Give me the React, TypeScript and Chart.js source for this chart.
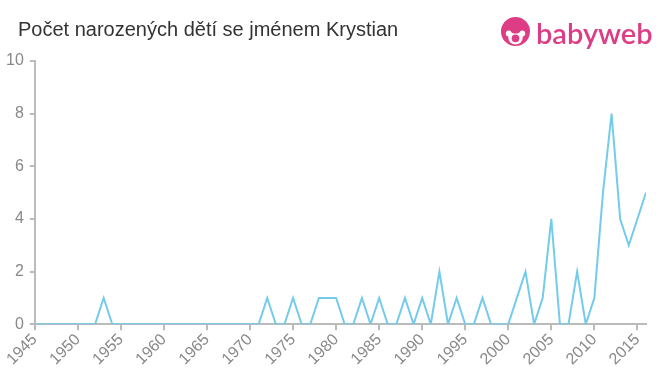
import React, { useEffect, useRef } from "react";
import { Chart, registerables } from "chart.js";

Chart.register(...registerables);

const years: number[] = [];
for (let y = 1945; y <= 2016; y++) years.push(y);

const counts: number[] = [
  // 1945-1954
  0, 0, 0, 0, 0, 0, 0, 0, 1, 0,
  // 1955-1964
  0, 0, 0, 0, 0, 0, 0, 0, 0, 0,
  // 1965-1974
  0, 0, 0, 0, 0, 0, 0, 1, 0, 0,
  // 1975-1984
  1, 0, 0, 1, 1, 1, 0, 0, 1, 0,
  // 1985-1994
  1, 0, 0, 1, 0, 1, 0, 2, 0, 1,
  // 1995-2004
  0, 0, 1, 0, 0, 0, 1, 2, 0, 1,
  // 2005-2014
  4, 0, 0, 2, 0, 1, 5, 8, 4, 3,
  // 2015-2016
  4, 5,
];

const xTicks = [1945, 1950, 1955, 1960, 1965, 1970, 1975, 1980, 1985, 1990, 1995, 2000, 2005, 2010, 2015];
const yTicks = [0, 2, 4, 6, 8, 10];
const xMin = 1945;
const xMax = 2016;

const title = "Počet narozených dětí se jménem Krystian";

export default function App() {
  const ref = useRef<HTMLCanvasElement | null>(null);

  useEffect(() => {
    document.body.style.margin = "0";
    const ctx = ref.current!;
    const chart = new Chart(ctx, {
      type: "line",
      data: {
        datasets: [
          {
            data: years.map((y, i) => ({ x: y, y: counts[i] })),
            borderColor: "#75cbea",
            borderWidth: 2,
            pointRadius: 0,
            tension: 0,
            fill: false,
          },
        ],
      },
      options: {
        animation: false,
        responsive: false,
        maintainAspectRatio: false,
        layout: { padding: { top: 61, right: 14, left: 0, bottom: 6 } },
        plugins: { legend: { display: false }, tooltip: { enabled: false } },
        scales: {
          x: {
            type: "linear",
            min: xMin,
            max: xMax,
            afterBuildTicks: (scale: any) => {
              scale.ticks = xTicks.map((v) => ({ value: v }));
            },
            ticks: {
              autoSkip: false,
              minRotation: 45,
              maxRotation: 45,
              color: "#888",
              font: { size: 16, family: "'Liberation Sans', Arial, sans-serif" },
              padding: 0,
              callback: (v: any) => String(v),
            },
            grid: { display: true, drawOnChartArea: false, drawTicks: true, tickLength: 6, color: "#bbb", lineWidth: 2 },
            border: { color: "#bbb", width: 2 },
          },
          y: {
            min: 0,
            max: 10,
            afterBuildTicks: (scale: any) => {
              scale.ticks = yTicks.map((v) => ({ value: v }));
            },
            ticks: {
              color: "#888",
              font: { size: 16, family: "'Liberation Sans', Arial, sans-serif" },
              padding: 6,
            },
            grid: { display: true, drawOnChartArea: false, drawTicks: true, tickLength: 5, color: "#bbb", lineWidth: 2 },
            border: { color: "#bbb", width: 2 },
          },
        },
      },
    });
    return () => chart.destroy();
  }, []);

  return (
    <div style={{ position: "relative", width: 660, height: 375, background: "#fff", overflow: "hidden" }}>
      <canvas ref={ref} width={660} height={375} style={{ position: "absolute", left: 0, top: 0 }} />
      <div
        style={{
          position: "absolute",
          left: 18,
          top: 18,
          fontFamily: "'Liberation Sans', Arial, sans-serif",
          fontSize: 20,
          color: "#333",
          whiteSpace: "nowrap",
        }}
      >
        {title}
      </div>
      <div style={{ position: "absolute", left: 500, top: 17, display: "flex", alignItems: "center" }}>
        <svg width="31" height="31" viewBox="0 0 32 32">
          <circle cx="16" cy="15" r="15" fill="#dd3d85" />
          <circle cx="16" cy="21" r="7.5" fill="#fff" />
          <circle cx="9" cy="17" r="3" fill="#fff" />
          <circle cx="23" cy="17" r="3" fill="#fff" />
          <circle cx="16" cy="22" r="4" fill="#dd3d85" />
          <rect x="11" y="8" width="10" height="9" rx="4" fill="#dd3d85" />
        </svg>
        <span
          style={{
            fontFamily: "Lato, 'Liberation Sans', Arial, sans-serif",
            fontSize: 29,
            fontWeight: 600,
            color: "#dd3d85",
            marginLeft: 5,
            lineHeight: "31px",
          }}
        >
          babyweb
        </span>
      </div>
    </div>
  );
}
